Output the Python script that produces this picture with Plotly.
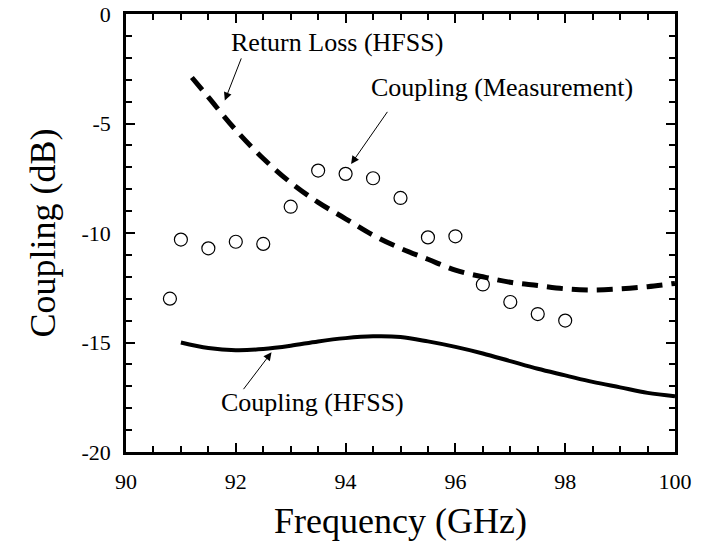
import plotly.graph_objects as go

# Measured coupling (circles)
meas_f = [90.8, 91.0, 91.5, 92.0, 92.5, 93.0, 93.5, 94.0, 94.5, 95.0, 95.5, 96.0, 96.5, 97.0, 97.5, 98.0]
meas_db = [-13.0, -10.3, -10.7, -10.4, -10.5, -8.8, -7.15, -7.3, -7.5, -8.4, -10.2, -10.15, -12.35, -13.15, -13.7, -14.0]

# Return loss (HFSS), dashed
rl_f = [91.2, 91.5, 92.0, 92.5, 93.0, 93.5, 94.0, 94.5, 95.0, 95.5, 96.0, 96.5, 97.0, 97.5, 98.0, 98.5, 99.0, 99.5, 100.0]
rl_db = [-2.9, -3.8, -5.3, -6.6, -7.7, -8.6, -9.35, -10.1, -10.7, -11.2, -11.7, -12.0, -12.25, -12.4, -12.55, -12.6, -12.55, -12.45, -12.3]

# Coupling (HFSS), solid
cp_f = [91.0, 91.5, 92.0, 92.5, 93.0, 93.5, 94.0, 94.5, 95.0, 95.5, 96.0, 96.5, 97.0, 97.5, 98.0, 98.5, 99.0, 99.5, 100.0]
cp_db = [-15.0, -15.25, -15.35, -15.3, -15.15, -14.95, -14.8, -14.72, -14.75, -14.95, -15.2, -15.5, -15.85, -16.2, -16.5, -16.8, -17.05, -17.3, -17.45]

x_ticks = [90, 92, 94, 96, 98, 100]
y_ticks = [0, -5, -10, -15, -20]

FONT = "Liberation Serif"

fig = go.Figure()
fig.add_trace(go.Scatter(x=rl_f, y=rl_db, mode="lines", line=dict(color="black", width=5, dash="16px,9px"), line_shape="spline"))
fig.add_trace(go.Scatter(x=cp_f, y=cp_db, mode="lines", line=dict(color="black", width=4), line_shape="spline"))
fig.add_trace(go.Scatter(x=meas_f, y=meas_db, mode="markers",
                         marker=dict(symbol="circle-open", size=13, color="black", line=dict(width=1.2))))

ann_font = dict(family=FONT, size=26, color="black")

def add_arrow(tip_x, tip_y, tail_x, tail_y):
    fig.add_annotation(x=tip_x, y=tip_y, ax=tail_x, ay=tail_y, xref="x", yref="y", axref="x", ayref="y",
                       text="", showarrow=True, arrowhead=2, arrowsize=1.6, arrowwidth=1, arrowcolor="black")

add_arrow(91.8, -3.95, 92.11, -1.96)
add_arrow(94.1, -6.85, 94.78, -4.40)
add_arrow(92.65, -15.45, 92.12, -17.2)

fig.add_annotation(x=93.85, y=-1.3, text="Return Loss (HFSS)", showarrow=False, font=ann_font, xref="x", yref="y")
fig.add_annotation(x=96.85, y=-3.35, text="Coupling (Measurement)", showarrow=False, font=ann_font, xref="x", yref="y")
fig.add_annotation(x=93.4, y=-17.75, text="Coupling (HFSS)", showarrow=False, font=ann_font, xref="x", yref="y")

axis_common = dict(showgrid=False, zeroline=False, showline=True, linecolor="black", linewidth=2.5,
                   mirror="allticks", ticks="inside", tickcolor="black", tickwidth=2, ticklen=9,
                   automargin=False,
                   tickfont=dict(family=FONT, size=22, color="black"))

fig.update_xaxes(range=[90, 100], tickvals=x_ticks, ticktext=[str(v) for v in x_ticks],
                 title=dict(text="Frequency (GHz)", font=dict(family=FONT, size=36, color="black")),
                 minor=dict(dtick=0.5, ticks="inside", ticklen=6, tickwidth=2, tickcolor="black"),
                 ticklabelstandoff=8, **axis_common)
fig.update_yaxes(range=[-20, 0], tickvals=y_ticks, ticktext=[str(v) for v in y_ticks],
                 title=dict(text="Coupling (dB)", font=dict(family=FONT, size=36, color="black")),
                 minor=dict(dtick=1, ticks="inside", ticklen=6, tickwidth=2, tickcolor="black"),
                 ticklabelstandoff=8, **axis_common)

fig.update_layout(width=702, height=545, margin=dict(l=126, r=27, t=14, b=93),
                  paper_bgcolor="white", plot_bgcolor="white", showlegend=False,
                  font=dict(family=FONT, color="black"))

fig.write_html("out.html")
